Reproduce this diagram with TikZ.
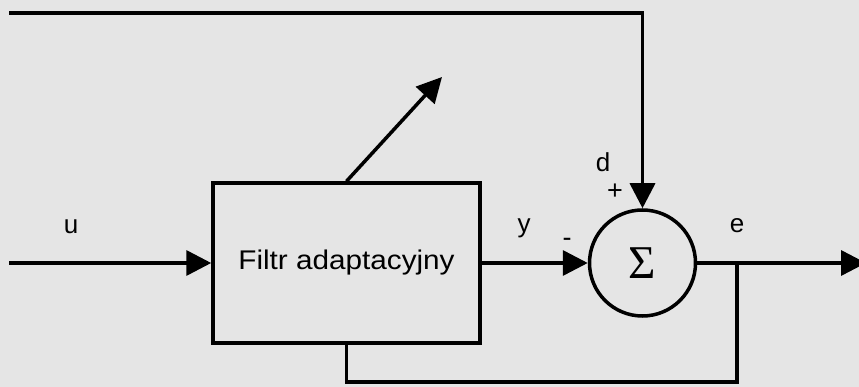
\documentclass[tikz,border=0pt]{standalone}
\usepackage{fontspec}
\setmainfont{Liberation Sans}
\newfontfamily\widesans[FakeStretch=1.1]{Liberation Sans}
\newfontfamily\sigmafont{Liberation Serif}
\usetikzlibrary{arrows.meta}
\definecolor{bgcol}{RGB}{229,229,229}
\tikzset{
  wire/.style={line width=3.5pt, black},
  arr/.style={wire, -{Triangle[length=25pt,width=25pt]}},
  blockbox/.style={draw, line width=3.5pt, minimum width=267pt, minimum height=160pt, inner sep=0pt, font=\widesans\fontsize{27}{30}\selectfont},
  sumnode/.style={draw, circle, line width=3.5pt, minimum size=106pt, inner sep=0pt, font=\sigmafont\fontsize{47}{50}\selectfont},
  lbl/.style={anchor=base, inner sep=0pt, font=\fontsize{26}{30}\selectfont},
  sgn/.style={inner sep=0pt, font=\fontsize{27}{30}\selectfont}
}
\begin{document}
\begin{tikzpicture}[x=1pt, y=-1pt]
  \fill[bgcol] (0,0) rectangle (859,387);
  \useasboundingbox (0,0) rectangle (859,387);
  \node[blockbox] (filt) at (346.5,263) {Filtr adaptacyjny};
  \node[sumnode] (sum) at (642.5,263) {Σ};
  \coordinate (in) at (9,263);
  \coordinate (tl) at (9,13);
  \coordinate (out) at (866,263);
  \coordinate (j) at (737,263);
  \coordinate (bj) at (737,382);
  \coordinate (adj) at (442,77);
  \draw[arr] (in) -- (filt.west);
  \draw[arr] (filt.east) -- (sum.west);
  \draw[arr] (tl) -| (sum.north);
  \draw[arr] (sum.east) -- (out);
  \draw[wire] (j) -- (bj) -| (filt.south);
  \draw[arr] (filt.north) -- (adj);
  \node[lbl] (lu) at (71,234) {u};
  \node[lbl] (ly) at (524,233) {y};
  \node[lbl] (le) at (737,233) {e};
  \node[lbl] (ld) at (603,172) {d};
  \node[sgn] (lp) at (615,192) {+};
  \node[sgn] (lm) at (567,242) {-};
\end{tikzpicture}
\end{document}
